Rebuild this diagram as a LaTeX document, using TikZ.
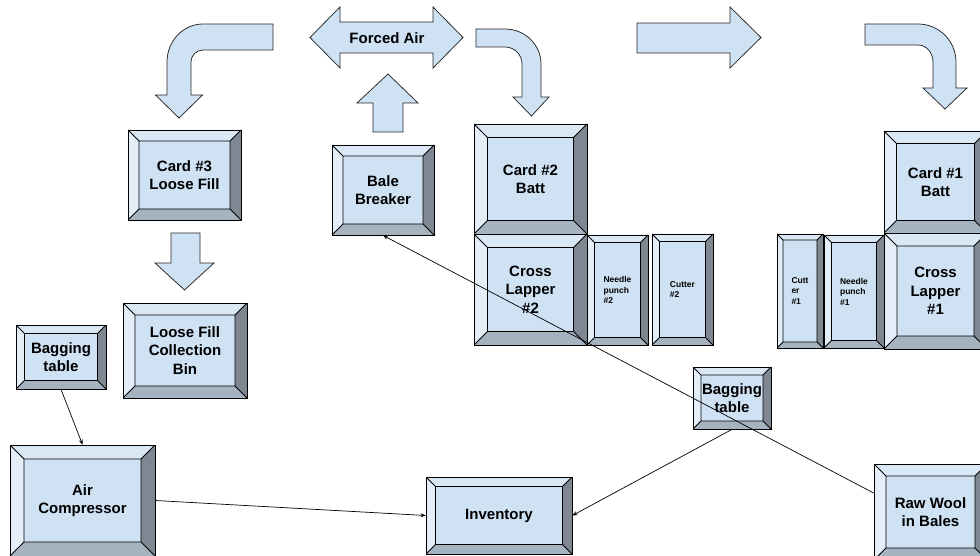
\documentclass[tikz,border=0pt]{standalone}
\usepackage{fontspec}
\setmainfont{Liberation Sans}
\usetikzlibrary{arrows.meta,calc}
\definecolor{bfill}{HTML}{CFE2F3}
\definecolor{topc}{HTML}{DAE7F5}
\definecolor{leftc}{HTML}{E4EEF9}
\definecolor{rightc}{HTML}{7F8892}
\definecolor{botc}{HTML}{A5B3C1}
\newcommand{\bigf}{\fontsize{15}{18.5}\selectfont\bfseries}
\newcommand{\smallf}{\fontsize{8.5}{10.5}\selectfont\bfseries}
\tikzset{
  bev/.style={
    rectangle, draw=black, line width=0.75pt, fill=bfill, inner sep=0pt,
    align=center, font=\bigf,
    path picture={
      \path (path picture bounding box.north west) coordinate (pNW)
            (path picture bounding box.south east) coordinate (pSE);
      \path (pNW -| pSE) coordinate (pNE) (pNW |- pSE) coordinate (pSW);
      \path ([shift={(#1pt,-#1pt)}]pNW) coordinate (qNW)
            ([shift={(-#1pt,-#1pt)}]pNE) coordinate (qNE)
            ([shift={(#1pt,#1pt)}]pSW) coordinate (qSW)
            ([shift={(-#1pt,#1pt)}]pSE) coordinate (qSE);
      \fill[topc] (pNW) -- (pNE) -- (qNE) -- (qNW) -- cycle;
      \fill[leftc] (pNW) -- (qNW) -- (qSW) -- (pSW) -- cycle;
      \fill[rightc] (pNE) -- (pSE) -- (qSE) -- (qNE) -- cycle;
      \fill[botc] (pSW) -- (qSW) -- (qSE) -- (pSE) -- cycle;
      \draw[line width=0.75pt] (qNW) rectangle (qSE)
        (pNW) -- (qNW) (pNE) -- (qNE) (pSW) -- (qSW) (pSE) -- (qSE);
    }
  },
  smallbox/.style={font=\smallf, align=left},
  blockarrow/.style={fill=bfill, draw=black!85, line width=0.75pt, line join=miter},
  conn/.style={draw=black, line width=0.7pt, -{Stealth[length=5pt,width=4pt]}}
}
\begin{document}
\begin{tikzpicture}[x=1pt,y=-1pt]
\useasboundingbox (0,0) rectangle (980,556);
\clip (0,0) rectangle (980,556);

% boxes
\node[bev=11, minimum width=113pt, minimum height=90pt] (card3) at (184.5,175) {Card \#3\\Loose Fill};
\node[bev=11, minimum width=102pt, minimum height=90pt] (bb) at (383,190) {Bale\\Breaker};
\node[bev=13.5, minimum width=113pt, minimum height=110pt] (card2) at (530.5,179) {Card \#2\\Batt};
\node[bev=13.5, minimum width=113pt, minimum height=111pt] (cl2) at (530.5,289.5) {Cross\\Lapper\\\#2};
\node[bev=7.5, minimum width=61pt, minimum height=110pt, smallbox] (np2) at (617.5,290) {Needle\\punch\\\#2};
\node[bev=7.5, minimum width=61pt, minimum height=111pt, smallbox] (cut2) at (682.5,289.5) {Cutter\\\#2};
\node[bev=12.5, minimum width=103pt, minimum height=102pt] (card1) at (935.5,182) {Card \#1\\Batt};
\node[bev=13, minimum width=103pt, minimum height=116pt] (cl1) at (935.5,291) {Cross\\Lapper\\\#1};
\node[bev=7.5, minimum width=60pt, minimum height=113pt, smallbox] (np1) at (854,291.5) {Needle\\punch\\\#1};
\node[bev=6, minimum width=46pt, minimum height=114pt, smallbox] (cut1) at (800,291) {Cutt\\er\\\#1};
\node[bev=12, minimum width=124pt, minimum height=95pt] (bin) at (185,350.5) {Loose Fill\\Collection\\Bin};
\node[bev=8.5, minimum width=90pt, minimum height=64pt] (bagL) at (61,357) {Bagging\\table};
\node[bev=14, minimum width=145pt, minimum height=111pt] (air) at (82.5,500.5) {Air\\Compressor};
\node[bev=9.5, minimum width=146pt, minimum height=77pt] (inv) at (499,515.5) {Inventory};
\node[bev=8, minimum width=78pt, minimum height=62pt] (bagM) at (732,398) {Bagging\\table};
\node[bev=12, minimum width=113pt, minimum height=96pt] (raw) at (930.5,512) {Raw Wool\\in Bales};

% block arrows
% curved arrow top-left (to Card #3)
\path[blockarrow] (273,24) -- (203,24) .. controls (183.1,24) and (167,41) .. (167,62)
  -- (167,95) -- (155.5,95) -- (179,118) -- (202.5,95) -- (191,95) -- (191,62)
  .. controls (191,55.4) and (196.4,50) .. (203,50) -- (273,50) -- cycle;
% double arrow Forced Air
\path[blockarrow] (310,37.5) -- (340,7) -- (340,22) -- (433,22) -- (433,7) -- (463,37.5)
  -- (433,68) -- (433,53) -- (340,53) -- (340,68) -- cycle;
\node[font=\bigf] (forced) at (387,38) {Forced Air};
% up arrow above Bale Breaker
\path[blockarrow] (388,74) -- (418,103) -- (403,103) -- (403,132) -- (373,132) -- (373,103) -- (357,103) -- cycle;
% curved arrow to Card #2
\path[blockarrow] (476,29) -- (505,29) .. controls (524.9,29) and (541,44.7) .. (541,64)
  -- (541,97) -- (549,97) -- (531.5,116) -- (513,97) -- (522,97) -- (522,64)
  .. controls (522,54.6) and (514.4,47) .. (505,47) -- (476,47) -- cycle;
% straight right arrow
\path[blockarrow] (637,23) -- (730,23) -- (730,7) -- (761,37.5) -- (730,68) -- (730,53) -- (637,53) -- cycle;
% curved arrow to Card #1
\path[blockarrow] (865,24) -- (918,24) .. controls (939,24) and (956,41) .. (956,62)
  -- (956,88) -- (967,88) -- (945,109) -- (923,88) -- (933,88) -- (933,62)
  .. controls (933,52.6) and (926.3,45) .. (918,45) -- (865,45) -- cycle;
% down arrow below Card #3
\path[blockarrow] (171,233) -- (200,233) -- (200,263) -- (214,263) -- (184.5,290) -- (155,263) -- (171,263) -- cycle;

% connectors
\draw[conn] (bagL.south) -- (air.north);
\draw[conn] (air.east) -- (inv.west);
\draw[conn] (bagM.south) -- (inv.east);
\draw[conn] ([yshift=19pt]raw.west) -- (bb.south);
\end{tikzpicture}
\end{document}
